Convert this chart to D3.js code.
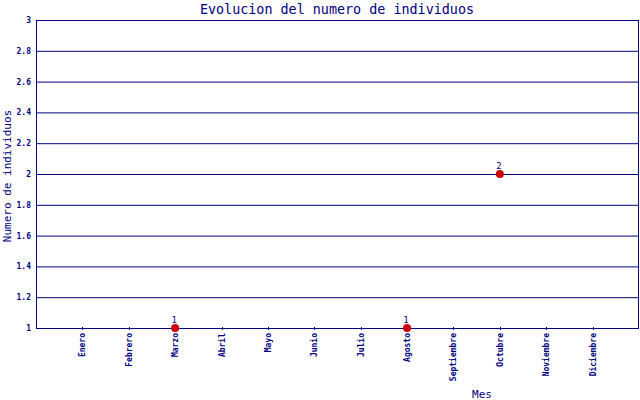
<!DOCTYPE html>
<html>
<head>
<meta charset="utf-8">
<script src="https://cdn.jsdelivr.net/npm/d3@7"></script>
<style>
  body { margin: 0; background: #fff; }
  text { font-family: "DejaVu Sans Mono", monospace; fill: #000080; }
</style>
</head>
<body>
<div id="chart"></div>
<script>
// Data
var months = ["Enero", "Febrero", "Marzo", "Abril", "Mayo", "Junio", "Julio",
  "Agosto", "Septiembre", "Octubre", "Noviembre", "Diciembre"];
var pointMonths = ["Marzo", "Agosto", "Octubre"];
var pointValues = [1, 1, 2];
var yTicks = [1, 1.2, 1.4, 1.6, 1.8, 2, 2.2, 2.4, 2.6, 2.8, 3];

var svgWidth = 640, svgHeight = 400;
var margin = { top: 20, right: 1, bottom: 72, left: 36 };
var width = svgWidth - margin.left - margin.right;
var height = svgHeight - margin.top - margin.bottom;
var navy = "#000080";

var svg = d3.select("#chart").append("svg")
  .attr("width", svgWidth)
  .attr("height", svgHeight);

var chartGroup = svg.append("g")
  .attr("transform", `translate(${margin.left}, ${margin.top})`);

var x = d3.scalePoint().domain(months).range([0, width]).padding(1);
var y = d3.scaleLinear().domain([1, 3]).range([height, 0]);

// grid lines
chartGroup.selectAll(".grid")
  .data(yTicks)
  .enter()
  .append("line")
  .attr("x1", 0).attr("x2", width)
  .attr("y1", d => y(d) + 0.5).attr("y2", d => y(d) + 0.5)
  .attr("stroke", navy).attr("stroke-width", 1);

// frame
chartGroup.append("line")
  .attr("x1", 0.5).attr("x2", 0.5).attr("y1", 0).attr("y2", height)
  .attr("stroke", navy);
chartGroup.append("line")
  .attr("x1", width - 0.5).attr("x2", width - 0.5).attr("y1", 0).attr("y2", height)
  .attr("stroke", navy);

// y tick labels
chartGroup.selectAll(".ylab")
  .data(yTicks)
  .enter()
  .append("text")
  .attr("x", -5)
  .attr("y", d => y(d) + 3)
  .attr("text-anchor", "end")
  .attr("font-size", "8px")
  .attr("font-weight", "bold")
  .text(d => d);

// x ticks
chartGroup.selectAll(".xtick")
  .data(months)
  .enter()
  .append("line")
  .attr("x1", d => Math.round(x(d)) + 0.5).attr("x2", d => Math.round(x(d)) + 0.5)
  .attr("y1", height - 1).attr("y2", height + 2)
  .attr("stroke", navy);

chartGroup.selectAll(".xlab")
  .data(months)
  .enter()
  .append("text")
  .attr("transform", d => `translate(${x(d) + 3}, ${height + 5}) rotate(-90)`)
  .attr("text-anchor", "end")
  .attr("font-size", "8px")
  .attr("font-weight", "bold")
  .text(d => d);

// points
chartGroup.selectAll("circle")
  .data(pointMonths)
  .enter()
  .append("circle")
  .attr("cx", d => x(d))
  .attr("cy", (d, i) => y(pointValues[i]))
  .attr("r", 4)
  .attr("fill", "#cc0000");

chartGroup.selectAll(".plab")
  .data(pointMonths)
  .enter()
  .append("text")
  .attr("x", d => x(d) - 1)
  .attr("y", (d, i) => y(pointValues[i]) - 5)
  .attr("text-anchor", "middle")
  .attr("font-size", "9px")
  .text((d, i) => pointValues[i]);

// titles
svg.append("text")
  .attr("x", 337).attr("y", 14)
  .attr("text-anchor", "middle")
  .attr("font-size", "13.4px")
  .text("Evolucion del numero de individuos");

svg.append("text")
  .attr("x", 482).attr("y", 398)
  .attr("text-anchor", "middle")
  .attr("font-size", "11px")
  .text("Mes");

svg.append("text")
  .attr("transform", "translate(11, 176) rotate(-90)")
  .attr("text-anchor", "middle")
  .attr("font-size", "11px")
  .text("Numero de individuos");
</script>
</body>
</html>
